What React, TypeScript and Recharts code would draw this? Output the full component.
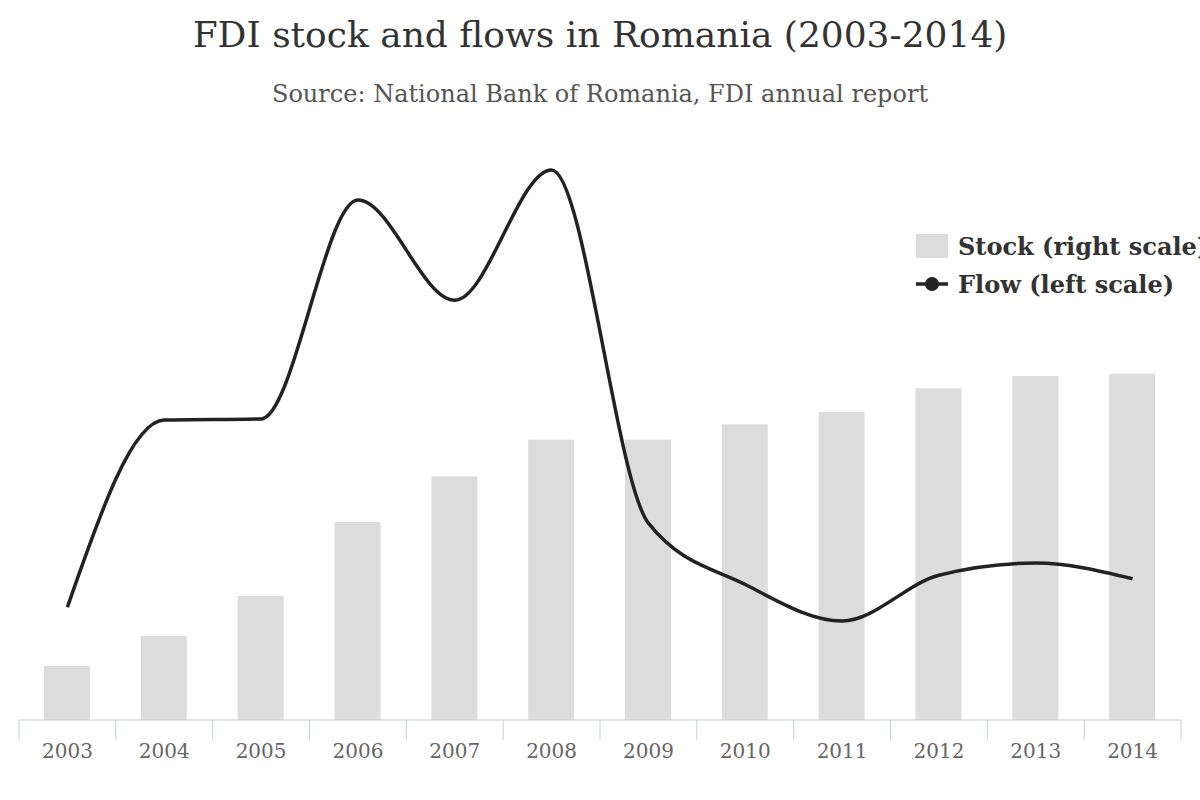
import React from "react";
import { ComposedChart, Bar, Line, XAxis, YAxis } from "recharts";

const years = ["2003", "2004", "2005", "2006", "2007", "2008", "2009", "2010", "2011", "2012", "2013", "2014"];
// FDI stock, EUR million (right scale)
const stock = [9330, 14500, 21400, 34200, 42100, 48400, 48400, 51100, 53200, 57300, 59400, 59800];
// FDI flow, EUR million (left scale)
const flow = [1950, 5180, 5200, 8980, 7250, 9500, 3400, 2340, 1710, 2500, 2710, 2440];

const data = years.map((y, i) => ({ year: y, stock: stock[i], flow: flow[i] }));

const FONT = "'DejaVu Serif', serif";
const BAND = 1162 / years.length;

function YearTick(props: any) {
  const { x, y, payload, index } = props;
  return (
    <g>
      <line x1={x - BAND / 2} y1={y - 8} x2={x - BAND / 2} y2={y + 12} stroke="#c0d0e0" strokeWidth={1} />
      {index === years.length - 1 && (
        <line x1={x + BAND / 2} y1={y - 8} x2={x + BAND / 2} y2={y + 12} stroke="#c0d0e0" strokeWidth={1} />
      )}
      <text x={x} y={y + 30} textAnchor="middle" fill="#666" fontSize={20} fontFamily={FONT}>
        {payload.value}
      </text>
    </g>
  );
}

function LegendBox() {
  const item = { display: "flex", alignItems: "center", height: 38, whiteSpace: "nowrap" as const };
  const label = { fontFamily: FONT, fontWeight: 700, fontSize: 24, color: "#333", marginLeft: 10 };
  return (
    <div style={{ position: "absolute", left: 916, top: 227 }}>
      <div style={item}>
        <div style={{ width: 32, height: 24, background: "#dcdcdc" }} />
        <span style={label}>Stock (right scale)</span>
      </div>
      <div style={item}>
        <svg width={32} height={24}>
          <line x1={0} y1={12} x2={32} y2={12} stroke="#222" strokeWidth={3.5} />
          <circle cx={16} cy={12} r={7} fill="#222" />
        </svg>
        <span style={label}>Flow (left scale)</span>
      </div>
    </div>
  );
}

export default function App() {
  return (
    <div style={{ position: "absolute", left: 0, top: 0, width: 1200, height: 800, overflow: "hidden", background: "#fff" }}>
      <div style={{ position: "absolute", left: 0, width: 1200, top: 14, textAlign: "center", fontFamily: FONT, fontSize: 36, color: "#333" }}>
        FDI stock and flows in Romania (2003-2014)
      </div>
      <div style={{ position: "absolute", left: 0, width: 1200, top: 80, textAlign: "center", fontFamily: FONT, fontSize: 24, color: "#555" }}>
        Source: National Bank of Romania, FDI annual report
      </div>
      <div style={{ position: "absolute", left: 0, top: 0 }}>
        <ComposedChart
          width={1200}
          height={800}
          data={data}
          margin={{ top: 141, right: 19, bottom: 0, left: 19 }}
        >
          <XAxis
            dataKey="year"
            axisLine={{ stroke: "#c0d0e0", strokeWidth: 1 }}
            tickLine={false}
            tick={<YearTick />}
            interval={0}
            height={80}
          />
          <YAxis yAxisId="left" domain={[0, 10000]} hide />
          <YAxis yAxisId="right" orientation="right" domain={[0, 100000]} hide />
          <Bar yAxisId="right" dataKey="stock" name="Stock (right scale)" fill="#dcdcdc" barSize={46} isAnimationActive={false} />
          <Line
            yAxisId="left"
            type="monotone"
            dataKey="flow"
            name="Flow (left scale)"
            stroke="#222"
            strokeWidth={3.5}
            dot={false}
            activeDot={false}
            isAnimationActive={false}
          />
        </ComposedChart>
      </div>
      <LegendBox />
    </div>
  );
}
